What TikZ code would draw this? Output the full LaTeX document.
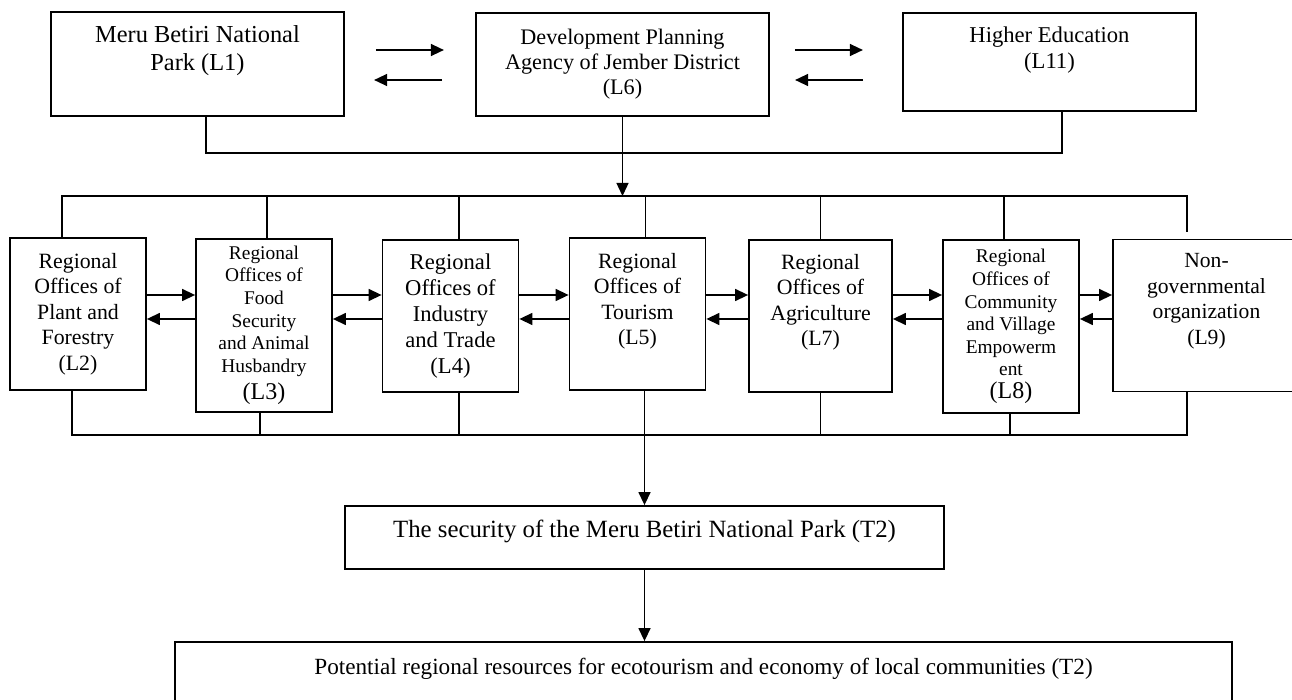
\documentclass[tikz,border=0pt]{standalone}
\usepackage{fontspec}
\setmainfont{Liberation Serif}
\usetikzlibrary{arrows.meta}

\begin{document}
\begin{tikzpicture}[x=0.5pt,y=-0.5pt,>={Triangle[length=6.5pt,width=6pt]},
  box/.style={draw,line width=0.9pt,inner sep=0pt,align=center},
  top node/.style={box,minimum width=146.5pt,minimum height=51.5pt},
  office node/.style={box,minimum width=68pt,minimum height=76pt,font=\fontsize{10.9}{12.8}\selectfont},
  tall office/.style={office node,minimum height=86.5pt,font=\fontsize{9.7}{11.3}\selectfont},
  goal node/.style={box,minimum height=31.5pt},
  lifted/.style={execute at end node={\rule[-#1]{0pt}{0pt}}},
  link/.style={line width=0.7pt}]

  \path[use as bounding box,clip] (0,0) rectangle (1292,700);

  % levels of the buses and arrows
  \coordinate (tfwd) at (0,50);
  \coordinate (tback) at (0,80);
  \coordinate (fwd) at (0,295);
  \coordinate (back) at (0,319);
  \coordinate (hi end) at (1187,196);
  \coordinate (lo end) at (1187,435);

  \node[top node,minimum height=52pt,lifted=15.7pt,font=\fontsize{12.2}{14}\selectfont] (L1) at (197.5,64)
    {Meru Betiri National\\Park (L1)};
  \node[top node,font=\fontsize{11.1}{12.5}\selectfont] (L6) at (622.5,64.5)
    {Development Planning\\Agency of Jember District\\(L6)};
  \node[top node,minimum height=49pt,lifted=14.6pt,font=\fontsize{11.3}{13}\selectfont] (L11) at (1049.5,62)
    {Higher Education\\(L11)};

  \node[office node] (L2) at (78,314) {Regional\\Offices of\\Plant and\\Forestry\\(L2)};
  \node[tall office] (L3) at (264,325.5)
    {Regional\\Offices of\\Food\\Security\\and Animal\\Husbandry\\[2.5pt]{\fontsize{12}{12}\selectfont(L3)}};
  \node[office node,font=\fontsize{11.3}{13}\selectfont] (L4) at (450.5,316)
    {Regional\\Offices of\\Industry\\and Trade\\(L4)};
  \node[office node,lifted=15.1pt] (L5) at (637.5,314) {Regional\\Offices of\\Tourism\\(L5)};
  \node[office node,minimum width=71.5pt,lifted=16.1pt] (L7) at (820.5,316)
    {Regional\\Offices of\\Agriculture\\(L7)};
  \node[tall office] (L8) at (1011,326.5)
    {Regional\\Offices of\\Community\\and Village\\Empowerm\\ent\\{\fontsize{12}{12}\selectfont(L8)}};
  \node[office node,minimum width=93.5pt,lifted=16.6pt,font=\fontsize{10.8}{12.8}\selectfont] (L9) at (1206.5,315.5)
    {Non-\\governmental\\organization\\(L9)};

  \node[goal node,minimum width=299.5pt,lifted=8.7pt,font=\fontsize{12.4}{15}\selectfont] (sec) at (644.5,537.5)
    {The security of the Meru Betiri National Park (T2)};
  \node[goal node,minimum width=528.5pt,minimum height=39pt,lifted=14.6pt,font=\fontsize{11.6}{14}\selectfont] (pot) at (703.5,681)
    {Potential regional resources for ecotourism and economy of local communities (T2)};

  % top row
  \foreach \a/\b/\g/\h in {L1/L6/31/33, L6/L11/25/39} {
    \draw[->,link] (\a.east |- tfwd) ++(\g,0) -- ++(68,0);
    \draw[->,link] (\b.west |- tback) ++(-\h,0) -- ++(-68,0);
  }
  \draw[link] ([xshift=4.25pt]L1.south) -- ++(0,36) -| ([xshift=6.25pt]L11.south);
  \draw[->,link] (L6.south) -- (L6.south |- hi end);

  % upper bus
  \draw[link] ([xshift=-8pt]L2.north) |- (hi end) -- ++(0,36);
  \foreach \n/\s in {L3/1.5pt,L4/4.25pt,L5/4pt,L7/0pt,L8/-3.5pt}
    \draw[link] ([xshift=\s]\n.north) |- (hi end);

  % offices
  \foreach \a/\b in {L2/L3,L3/L4,L4/L5,L5/L7,L7/L8,L8/L9} {
    \draw[->,link] (\a.east |- fwd) -- (\b.west |- fwd);
    \draw[->,link] (\b.west |- back) -- (\a.east |- back);
  }

  % lower bus
  \draw[link] ([xshift=-3pt]L2.south) |- (lo end) -- ([xshift=-9.75pt]L9.south);
  \foreach \n/\s in {L3/-2pt,L4/4.25pt,L7/0pt,L8/-0.5pt}
    \draw[link] ([xshift=\s]\n.south) |- (lo end);

  \draw[->,link] (L5.south -| sec.north) -- (sec.north);
  \draw[->,link] (sec.south) -- (sec.south |- pot.north);
\end{tikzpicture}
\end{document}
